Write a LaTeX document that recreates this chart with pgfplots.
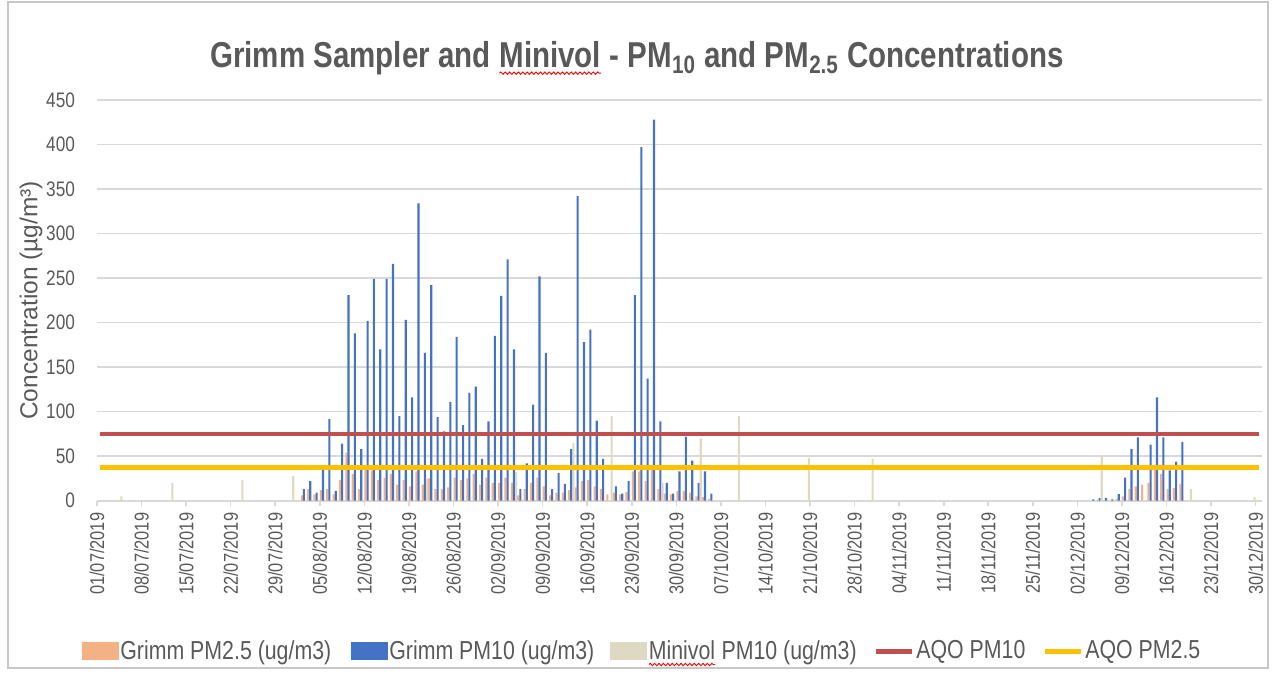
\documentclass[border=0pt]{standalone}
\usepackage{pgfplots}
\pgfplotsset{compat=1.18}
\usetikzlibrary{decorations.pathmorphing}
\usepackage{fontspec}
\setmainfont{Liberation Sans}
\newfontfamily\narrowfont{Liberation Sans}[FakeStretch=0.82]
\newcommand\redwave[1]{\tikz[baseline=(w.base)]{\node[inner sep=0pt, outer sep=0pt, anchor=base](w){#1}; \draw[red, line width=0.45pt, decorate, decoration={snake, amplitude=0.6pt, segment length=2.2pt}] ([yshift=-2.6pt]w.base west) -- ([yshift=-2.6pt]w.base east);}}
\definecolor{c25}{HTML}{F4B183}
\definecolor{c10}{HTML}{4472C4}
\definecolor{cmv}{HTML}{DDD9C3}
\definecolor{cred}{HTML}{C0504D}
\definecolor{cyel}{HTML}{FFC000}
\definecolor{gridgray}{HTML}{D9D9D9}
\definecolor{txtgray}{HTML}{595959}
\begin{document}
\begin{tikzpicture}
\path[use as bounding box] (-48.5pt,-87.15pt) rectangle (587.5pt,250.35pt);
\draw[gridgray!80!gray, line width=0.8pt] (-44.5pt,249.35pt) rectangle (585.5pt,-83.65pt);
\begin{axis}[
  scale only axis, width=582.5pt, height=200.35pt,
  at={(0,0)}, anchor=south west,
  xmin=-0.5, xmax=182.5, ymin=0, ymax=450,
  axis x line*=bottom, axis y line*=left,
  x axis line style={draw=gridgray, line width=0.8pt, -},
  y axis line style={draw=none},
  tick align=outside,
  xtick={-0.5,6.5,...,181.5},
  xticklabels={01/07/2019,08/07/2019,15/07/2019,22/07/2019,29/07/2019,05/08/2019,12/08/2019,19/08/2019,26/08/2019,02/09/2019,09/09/2019,16/09/2019,23/09/2019,30/09/2019,07/10/2019,14/10/2019,21/10/2019,28/10/2019,04/11/2019,11/11/2019,18/11/2019,25/11/2019,02/12/2019,09/12/2019,16/12/2019,23/12/2019,30/12/2019},
  xtick style={draw=gridgray, line width=0.8pt},
  x tick label style={rotate=90, anchor=east, font=\narrowfont\fontsize{10}{12}\selectfont, text=txtgray},
  major tick length=2.5pt,
  ytick={0,50,...,450},
  ytick style={draw=none},
  y tick label style={font=\narrowfont\fontsize{10.5}{12}\selectfont, text=txtgray, xshift=-5pt},
  /pgf/number format/assume math mode=true,
  ymajorgrids, grid style={gridgray, line width=0.8pt},
  ylabel={Concentration (µg/m³)},
  ylabel style={at={(axis description cs:-0.0567,0.5)}, anchor=center, font=\fontsize{12.25}{14}\selectfont, text=txtgray},
  title={\narrowfont\bfseries Grimm Sampler and \redwave{Minivol} - PM\textsubscript{10} and PM\textsubscript{2.5} Concentrations},
  title style={at={(axis description cs:0.4635,1.05)}, anchor=base, font=\fontsize{18}{20}\selectfont, text=txtgray},
  legend style={at={(axis description cs:-0.0133,-0.376)}, anchor=west, draw=none, fill=none,
    inner sep=0pt, nodes={inner sep=0.75pt}, font=\narrowfont\fontsize{13}{15}\selectfont, text=txtgray,
    /tikz/every even column/.append style={column sep=0pt},
    /tikz/every odd column/.append style={column sep=0pt}},
  legend columns=5,
  legend cell align=left,
]
\addplot[ybar, bar width=0.33, bar shift=-0.33, fill=c25, draw=none,
  legend image code/.code={\fill[c25] (0pt,-4.5pt) rectangle (18.5pt,4.5pt);}]
 coordinates {(32,6) (33,13) (34,7) (35,12) (36,13) (37,7) (38,23) (39,54) (40,30) (41,13) (42,35) (43,34) (44,23) (45,26) (46,30) (47,18) (48,23) (49,16) (50,33) (51,18) (52,25) (53,13) (54,13) (55,15) (56,26) (57,23) (58,25) (59,30) (60,18) (61,26) (62,20) (63,20) (64,26) (65,20) (66,6) (67,13) (68,20) (69,26) (70,16) (71,6) (72,9) (73,9) (74,12) (75,15) (76,22) (77,23) (78,16) (79,13) (80,7) (81,9) (82,7) (83,10) (84,33) (85,33) (86,22) (87,40) (88,13) (89,8) (90,7) (91,11) (92,11) (93,9) (94,5) (95,4) (96,2)
 (157,1) (160,2) (161,5) (162,13) (163,16) (164,18) (165,20) (166,35) (167,30) (168,13) (169,14) (170,19)};
\addlegendentry{\makebox[114.5pt][l]{Grimm PM2.5 (ug/m3)}}
\addplot[ybar, bar width=0.33, bar shift=0, fill=c10, draw=none,
  legend image code/.code={\fill[c10] (0pt,-4.5pt) rectangle (18.5pt,4.5pt);}]
 coordinates {(32,13) (33,22) (34,9) (35,35) (36,92) (37,11) (38,64) (39,231) (40,188) (41,58) (42,202) (43,249) (44,170) (45,249) (46,266) (47,95) (48,203) (49,116) (50,334) (51,166) (52,242) (53,94) (54,78) (55,111) (56,184) (57,85) (58,121) (59,128) (60,47) (61,89) (62,185) (63,230) (64,271) (65,170) (66,13) (67,42) (68,108) (69,252) (70,166) (71,13) (72,31) (73,19) (74,58) (75,342) (76,178) (77,192) (78,90) (79,47) (81,16) (82,8) (83,22) (84,231) (85,397) (86,137) (87,428) (88,89) (89,20) (90,8) (91,33) (92,72) (93,45) (94,20) (95,33) (96,8)
 (156,1.5) (157,3) (158,3) (159,1.5) (160,7.5) (161,26) (162,58) (163,71) (165,63) (166,116) (167,71) (168,34) (169,44) (170,66)};
\addlegendentry{\makebox[109.5pt][l]{Grimm PM10 (ug/m3)}}
\addplot[ybar, bar width=0.33, bar shift=0.33, fill=cmv, draw=none,
  legend image code/.code={\fill[cmv] (0pt,-4.5pt) rectangle (18.5pt,4.5pt);}]
 coordinates {(3,5) (11,20) (22,23) (30,28) (51,25) (65,32) (74,65) (80,95) (88,20) (94,70) (100,95) (111,48) (121,47) (157,50) (171,13) (181,4)};
\addlegendentry{\makebox[112pt][l]{\redwave{Minivol} PM10 (ug/m3)}}
\addplot[cred, line width=2.3pt, no marks,
  legend image code/.code={\draw[cred, line width=2.5pt] (0pt,0pt) -- (18pt,0pt);}]
 coordinates {(0,75) (182,75)};
\addlegendentry{\makebox[62.5pt][l]{AQO PM10}}
\addplot[cyel, line width=2.2pt, no marks,
  legend image code/.code={\draw[cyel, line width=2.5pt] (0pt,0pt) -- (18pt,0pt);}]
 coordinates {(0,37.5) (182,37.5)};
\addlegendentry{AQO PM2.5}
\end{axis}
\end{tikzpicture}
\end{document}
